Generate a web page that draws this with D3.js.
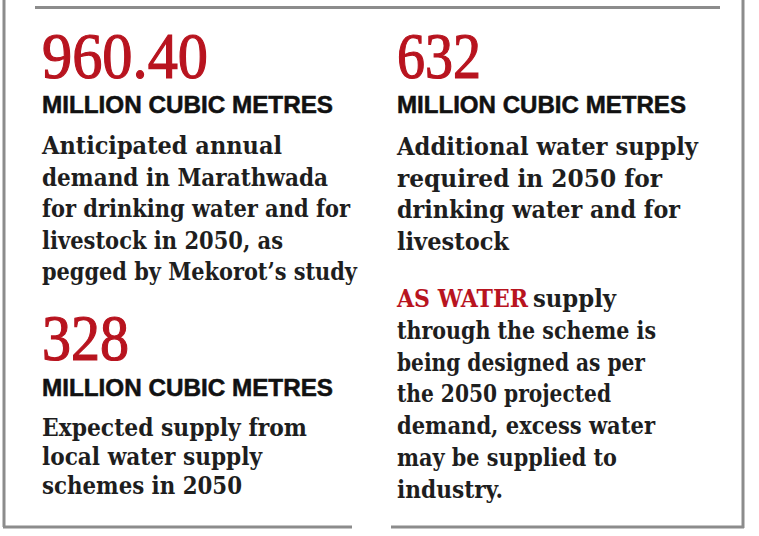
<!DOCTYPE html>
<html><head><meta charset="utf-8">
<script src="https://cdn.jsdelivr.net/npm/d3@7"></script>
<style>html,body{margin:0;padding:0;background:#fff;}svg{display:block;}</style>
</head><body>
<svg id="c" width="759" height="536"></svg>
<script>
// ---- data ----
const figures = ["960.40", "632", "328"];
const units = ["MILLION CUBIC METRES", "MILLION CUBIC METRES", "MILLION CUBIC METRES"];
const descriptions = [
  ["Anticipated annual", "demand in Marathwada", "for drinking water and for", "livestock in 2050, as", "pegged by Mekorot\u2019s study"],
  ["Additional water supply", "required in 2050 for", "drinking water and for", "livestock"],
  ["Expected supply from", "local water supply", "schemes in 2050"]
];
const noteLead = "AS WATER";
const noteLines = [" supply", "through the scheme is", "being designed as per", "the 2050 projected", "demand, excess water", "may be supplied to", "industry."];

// ---- layout (not data) ----
const blocks = [
  {x: 42, figY: 78, figW: 166, unitY: 113, unitW: 291, descY: 154, lh: 31.5,
   widths: [240, 286, 308, 241, 315]},
  {x: 397, figY: 78, figW: 84, unitY: 113, unitW: 289, descY: 155, lh: 31.5,
   widths: [301, 265, 283, 112]},
  {x: 42, figY: 360, figW: 87, unitY: 396, unitW: 291, descY: 436, lh: 29,
   widths: [265, 220, 200]}
];
const noteX = 397, noteY0 = 307, noteLH = 31.8;
const noteLeadW = 131;
const noteWidths = [83, 259, 248, 214, 258, 220, 106];

const RED = "#b8141f", INK = "#1e1e1e", RULE = "#8c8c8c";
const BODY = "'DejaVu Serif Condensed', 'DejaVu Serif', serif";
const svg = d3.select("#c");

// frame
const frame = [
  [4, 0, 4, 527], [3, 527, 352, 527], [391, 527, 744, 527], [743, 0, 743, 528], [35, 7.5, 720, 7.5]
];
svg.selectAll("line.frame").data(frame).join("line").attr("class", "frame")
  .attr("x1", d => d[0]).attr("y1", d => d[1]).attr("x2", d => d[2]).attr("y2", d => d[3])
  .attr("stroke", RULE).attr("stroke-width", 3);

const g = svg.selectAll("g.block").data(blocks).join("g").attr("class", "block");
g.append("text").text((d, i) => figures[i])
  .attr("x", d => d.x).attr("y", d => d.figY)
  .attr("textLength", d => d.figW).attr("lengthAdjust", "spacingAndGlyphs")
  .attr("font-family", "'Liberation Serif', 'Times New Roman', serif")
  .attr("font-size", 65).attr("fill", RED).attr("stroke", RED).attr("stroke-width", 1.2);
g.append("text").text((d, i) => units[i])
  .attr("x", d => d.x).attr("y", d => d.unitY)
  .attr("textLength", d => d.unitW).attr("lengthAdjust", "spacingAndGlyphs")
  .attr("font-family", "'Liberation Sans', Arial, sans-serif").attr("font-weight", "bold")
  .attr("font-size", 23).attr("fill", "#111").attr("stroke", "#111").attr("stroke-width", 0.5);
g.each(function(d, i) {
  d3.select(this).selectAll("text.desc").data(descriptions[i]).join("text").attr("class", "desc")
    .text(t => t)
    .attr("x", d.x).attr("y", (t, j) => d.descY + j * d.lh)
    .attr("textLength", (t, j) => d.widths[j]).attr("lengthAdjust", "spacingAndGlyphs")
    .attr("font-family", BODY).attr("font-weight", "bold")
    .attr("font-size", 24).attr("fill", INK);
});

// note
const note = svg.append("g");
note.append("text").text(noteLead).attr("x", noteX).attr("y", noteY0)
  .attr("textLength", noteLeadW).attr("lengthAdjust", "spacingAndGlyphs")
  .attr("font-family", BODY).attr("font-weight", "bold")
  .attr("font-size", 24).attr("fill", RED);
note.selectAll("text.nl").data(noteLines).join("text").attr("class", "nl")
  .text(t => t.trim())
  .attr("x", (t, j) => j === 0 ? noteX + noteLeadW + 5 : noteX)
  .attr("y", (t, j) => noteY0 + j * noteLH)
  .attr("textLength", (t, j) => noteWidths[j]).attr("lengthAdjust", "spacingAndGlyphs")
  .attr("font-family", BODY).attr("font-weight", "bold")
  .attr("font-size", 24).attr("fill", INK);
</script>
</body></html>
